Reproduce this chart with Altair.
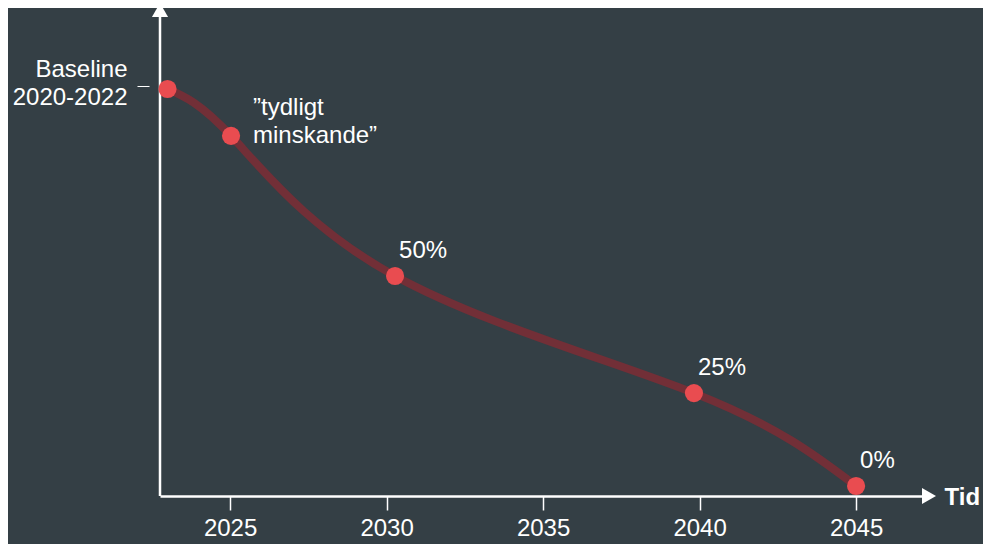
import altair as alt
import pandas as pd

# data
years = [2023.0, 2025.03, 2030.27, 2039.82, 2045.0]
levels = [100.0, 88.2, 52.9, 23.4, 0.0]
labels = ["", "”tydligt\nminskande”", "50%", "25%", "0%"]
kinds = ["base", "text", "pct", "pct", "pct"]
x_ticks = [2025, 2030, 2035, 2040, 2045]
y_tick = [100.8]
y_tick_label = ["Baseline", "2020-2022"]

BG = "#343f45"
LINE = "#722f37"
DOT = "#e94c50"
FONT = "Liberation Sans"
FS = 24

W, H = 764, 480

df = pd.DataFrame({"year": years, "level": levels, "label": labels, "kind": kinds})

xs = alt.Scale(domain=[2022.76, 2047.17], nice=False, zero=False)
ys = alt.Scale(domain=[-2.52, 118.39], nice=False, zero=False)

base = alt.Chart(df)

line = base.mark_line(color=LINE, strokeWidth=8, interpolate="natural").encode(
    x=alt.X("year:Q", scale=xs, axis=alt.Axis(
        values=x_ticks, format="d", domainColor="white", domainWidth=2.5,
        tickColor="white", tickWidth=1.5, tickSize=14, labelColor="white",
        labelFontSize=FS, labelFont=FONT, labelPadding=6, grid=False,
        title="Tid", titleX=784, titleY=1, titleAlign="left", titleBaseline="middle",
        titleAnchor="start", titleAngle=0,
        titleColor="white", titleFontSize=FS, titleFont=FONT, titleFontWeight="bold")),
    y=alt.Y("level:Q", scale=ys, axis=alt.Axis(
        values=y_tick, domain=False, grid=False, offset=11, tickColor="white",
        tickWidth=1, tickSize=12, labelColor="white", labelFontSize=FS, labelFont=FONT,
        labelPadding=10, labelLineHeight=28, labelOffset=-16, title=None,
        labelExpr="['" + y_tick_label[0] + "','" + y_tick_label[1] + "']")),
)

dots = base.mark_circle(color=DOT, size=330, opacity=1).encode(
    x=alt.X("year:Q", scale=xs), y=alt.Y("level:Q", scale=ys))

pct = base.transform_filter(alt.datum.kind == "pct").mark_text(
    align="left", baseline="middle", dx=4, dy=-25, color="white", fontSize=FS, font=FONT
).encode(x=alt.X("year:Q", scale=xs), y=alt.Y("level:Q", scale=ys), text="label:N")

txt = base.transform_filter(alt.datum.kind == "text").mark_text(
    align="left", baseline="middle", dx=22, dy=-28, lineBreak="\n", lineHeight=28,
    color="white", fontSize=FS, font=FONT
).encode(x=alt.X("year:Q", scale=xs), y=alt.Y("level:Q", scale=ys), text="label:N")

one = alt.Chart(pd.DataFrame({"a": [0]}))
yline = one.mark_rule(color="white", strokeWidth=2.5).encode(
    x=alt.value(0), y=alt.value(-2), y2=alt.value(H))
yarrow = one.mark_point(shape="triangle-up", filled=True, color="white", size=260, opacity=1).encode(
    x=alt.value(0), y=alt.value(-6))
xarrow = one.mark_point(shape="triangle-right", filled=True, color="white", size=260, opacity=1).encode(
    x=alt.value(W + 5), y=alt.value(H))

chart = alt.layer(line, yline, yarrow, xarrow, dots, pct, txt).properties(
    width=W, height=H, background=BG,
    autosize=alt.AutoSizeParams(type="none"),
    padding={"left": 152, "top": 8, "right": 59, "bottom": 48},
).configure_view(stroke=None)

chart.save("out.html", embed_options={"renderer": "svg", "actions": False})
